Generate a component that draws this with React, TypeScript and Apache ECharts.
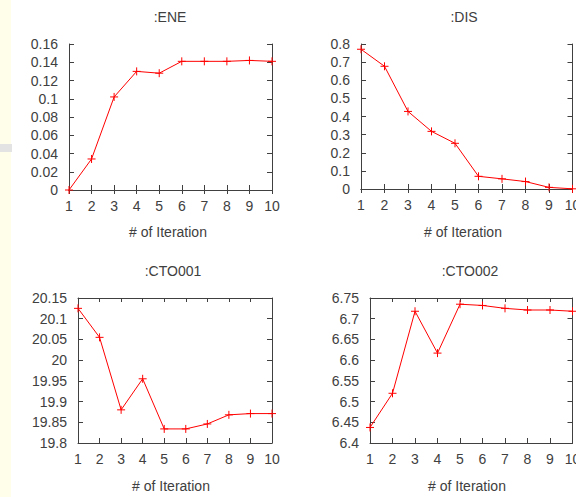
import React, { useEffect, useRef } from "react";
import * as echarts from "echarts";

// Iteration index shared by all four panels
const iterations = [1, 2, 3, 4, 5, 6, 7, 8, 9, 10];

// Per-panel values per iteration
const eneValues = [0, 0.034, 0.102, 0.13, 0.128, 0.141, 0.141, 0.141, 0.142, 0.141];
const disValues = [0.771, 0.677, 0.428, 0.318, 0.252, 0.07, 0.056, 0.041, 0.009, 0.001];
const cto001Values = [20.125, 20.055, 19.88, 19.955, 19.834, 19.834, 19.846, 19.868, 19.871, 19.871];
const cto002Values = [6.4375, 6.52, 6.718, 6.617, 6.735, 6.732, 6.725, 6.721, 6.721, 6.718];

// Panel titles
const panelTitles = [":ENE", ":DIS", ":CTO001", ":CTO002"];
const xAxisTitle = "# of Iteration";

// Y tick ranges: [min, max, step]
const eneTicks = [0, 0.16, 0.02];
const disTicks = [0, 0.8, 0.1];
const cto001Ticks = [19.8, 20.15, 0.05];
const cto002Ticks = [6.4, 6.75, 0.05];

const TEXT = "#404040";
const AXIS = "#404040";
const RED = "#ff0000";
const FONT = "Liberation Sans, Arial, sans-serif";

const panels = [
  { title: panelTitles[0], values: eneValues, ticks: eneTicks, grid: { left: 69, top: 44, width: 203, height: 146 }, titlePos: [170, 17], namePos: [168, 232] },
  { title: panelTitles[1], values: disValues, ticks: disTicks, grid: { left: 361, top: 44, width: 211.5, height: 145 }, titlePos: [464, 17], namePos: [463, 232] },
  { title: panelTitles[2], values: cto001Values, ticks: cto001Ticks, grid: { left: 78, top: 298, width: 194, height: 145 }, titlePos: [173, 271], namePos: [171, 486] },
  { title: panelTitles[3], values: cto002Values, ticks: cto002Ticks, grid: { left: 370, top: 298, width: 202.5, height: 145 }, titlePos: [470, 271], namePos: [467, 486] },
];

const plusSymbol = "path://M4,0 L4,8 M0,4 L8,4";

export default function App() {
  const ref = useRef<HTMLDivElement>(null);

  useEffect(() => {
    document.body.style.margin = "0";
    if (!ref.current) return;
    const chart = echarts.init(ref.current, null, { renderer: "svg" });

    const grids: any[] = [];
    const xAxes: any[] = [];
    const yAxes: any[] = [];
    const series: any[] = [];
    const graphics: any[] = [
      { type: "rect", z: -10, shape: { x: 0, y: 0, width: 11, height: 497 }, style: { fill: "#fffeeb" } },
      { type: "rect", z: -9, shape: { x: 0, y: 144, width: 12, height: 8 }, style: { fill: "#e3e3e3" } },
    ];

    panels.forEach((p, i) => {
      grids.push({ ...p.grid, show: false, containLabel: false, outerBoundsMode: "none" });
      const line = { show: true, lineStyle: { color: AXIS, width: 1 } };
      const label = { color: TEXT, fontSize: 14, fontFamily: FONT };
      // bottom / top x axes
      xAxes.push({
        gridIndex: i, type: "value", min: 1, max: 10, interval: 1, position: "bottom",
        axisLine: line, axisTick: { inside: true, length: 5, lineStyle: { color: AXIS } },
        axisLabel: { ...label, margin: 9, hideOverlap: false }, splitLine: { show: false },
      });
      xAxes.push({
        gridIndex: i, type: "value", min: 1, max: 10, interval: 1, position: "top",
        axisLine: line, axisTick: { inside: true, length: 4, lineStyle: { color: AXIS } },
        axisLabel: { show: false }, splitLine: { show: false },
      });
      // left / right y axes
      const [ymin, ymax, ystep] = p.ticks;
      yAxes.push({
        gridIndex: i, type: "value", min: ymin, max: ymax, interval: ystep, position: "left",
        axisLine: line, axisTick: { inside: true, length: 5, lineStyle: { color: AXIS } },
        axisLabel: { ...label, margin: 11 }, splitLine: { show: false },
      });
      yAxes.push({
        gridIndex: i, type: "value", min: ymin, max: ymax, interval: ystep, position: "right",
        axisLine: line, axisTick: { inside: true, length: 5, lineStyle: { color: AXIS } },
        axisLabel: { show: false }, splitLine: { show: false },
      });
      series.push({
        type: "line",
        xAxisIndex: 2 * i,
        yAxisIndex: 2 * i,
        data: iterations.map((it, k) => [it, p.values[k]]),
        symbol: plusSymbol,
        symbolSize: 8,
        showAllSymbol: true,
        lineStyle: { color: RED, width: 1 },
        itemStyle: { color: RED, borderColor: RED, borderWidth: 1 },
        clip: false,
      });
      graphics.push({
        type: "text", x: p.titlePos[0], y: p.titlePos[1],
        style: { text: p.title, fill: TEXT, font: `14px ${FONT}`, align: "center", verticalAlign: "middle" },
      });
      graphics.push({
        type: "text", x: p.namePos[0], y: p.namePos[1],
        style: { text: xAxisTitle, fill: TEXT, font: `14px ${FONT}`, align: "center", verticalAlign: "middle" },
      });
    });

    chart.setOption({
      animation: false,
      backgroundColor: "#ffffff",
      grid: grids,
      xAxis: xAxes,
      yAxis: yAxes,
      series,
      graphic: graphics,
    });

    return () => chart.dispose();
  }, []);

  return <div ref={ref} style={{ width: 576, height: 497 }} />;
}
